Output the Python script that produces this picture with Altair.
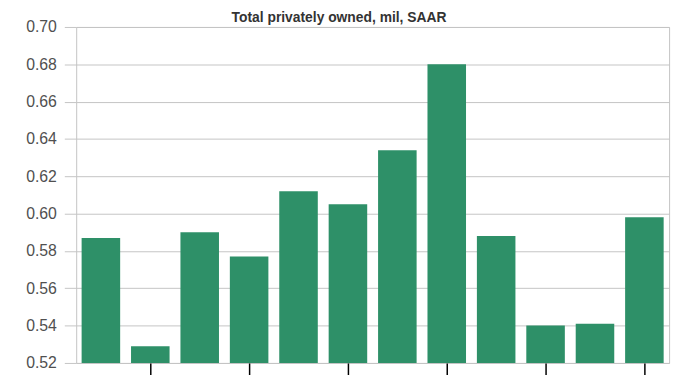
import altair as alt
import pandas as pd

title_text = ["Total privately owned, mil, SAAR"]
months = ["Jan", "Feb", "Mar", "Apr", "May", "Jun",
          "Jul", "Aug", "Sep", "Oct", "Nov", "Dec"]
values = [0.587, 0.529, 0.590, 0.577, 0.612, 0.605,
          0.634, 0.680, 0.588, 0.540, 0.541, 0.598]
tick_months = ["Feb", "Apr", "Jun", "Aug", "Oct", "Dec"]
y_ticks = [0.52, 0.54, 0.56, 0.58, 0.60, 0.62, 0.64, 0.66, 0.68, 0.70]

df = pd.DataFrame({"month": months, "value": values})

bars = alt.Chart(df).mark_bar(color="#2E9068").encode(
    x=alt.X("month:N", sort=None,
            scale=alt.Scale(paddingInner=0.22, paddingOuter=0.11),
            axis=alt.Axis(title=None, labels=False, domain=False, grid=False,
                          values=tick_months, ticks=True, tickColor="#000000",
                          tickSize=12, tickWidth=1.5)),
    y=alt.Y("value:Q",
            scale=alt.Scale(domain=[0.52, 0.70], zero=False, nice=False),
            axis=alt.Axis(title=None, values=y_ticks, format=".2f",
                          labelFont="Liberation Sans", labelFontSize=16,
                          labelColor="#505050", labelPadding=8,
                          tickColor="#c4c4c4", tickSize=12, domain=False,
                          gridColor="#c4c4c4", gridWidth=1)),
    y2=alt.datum(0.52),
)

title = alt.Chart(pd.DataFrame({"t": title_text})).mark_text(
    font="Liberation Sans", fontSize=14, fontWeight="bold", color="#333333",
    align="center", baseline="alphabetic"
).encode(x=alt.value(266), y=alt.value(-5), text="t:N")

chart = alt.layer(bars, title).properties(
    width=600, height=340,
    autosize=alt.AutoSizeParams(type="none"),
    padding={"left": 69, "top": 17, "right": 8, "bottom": 10},
).configure_view(stroke="#c4c4c4", strokeWidth=1)

chart.save("out.html", embed_options={"renderer": "svg", "actions": False})
